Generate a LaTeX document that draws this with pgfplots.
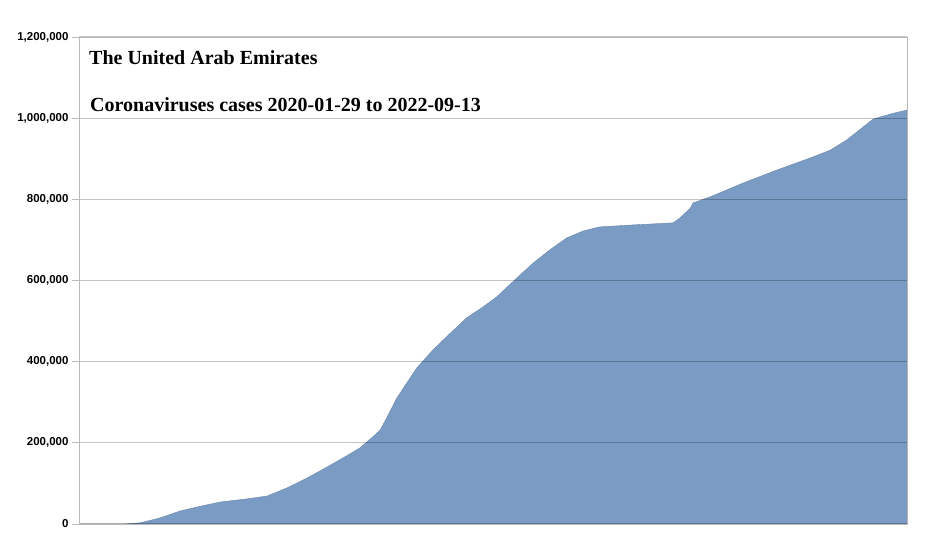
\documentclass[border=0pt]{standalone}
\usepackage{pgfplots}
\pgfplotsset{compat=1.18}
\usepackage{fontspec}
\setmainfont{Liberation Serif}
\setsansfont{Liberation Sans}
\definecolor{barblue}{RGB}{122,156,196}
\definecolor{framegray}{RGB}{185,185,185}

% cumulative cases, x = days since 2020-01-29
\pgfplotstableread{
day cases
0 0
47 0
53 0
71 3000
94 15000
117 32000
137 42000
163 54000
195 62000
218 69000
241 89000
264 113000
287 140000
310 168000
325 187000
340 214000
349 232000
357 264000
368 310000
391 384000
410 429000
430 470000
449 508000
468 535000
484 560000
507 606000
526 643000
545 675000
565 705000
584 722000
603 732000
642 737000
688 742000
696 754000
708 778000
711 791000
731 806000
769 840000
808 872000
847 902000
870 921000
889 946000
920 998000
943 1012000
959 1020000
}\uaecases

\begin{document}
\begin{tikzpicture}
\begin{axis}[
  scale only axis,
  width=828pt, height=487pt,
  xmin=0, xmax=959,
  ymin=0, ymax=1200000,
  xtick=\empty,
  ytick={0,200000,400000,600000,800000,1000000,1200000},
  ytick pos=left,
  scaled y ticks=false,
  yticklabel style={font=\sffamily\bfseries\fontsize{11.5}{13}\selectfont,
    /pgf/number format/.cd, fixed, 1000 sep={,}, assume math mode=true},
  ymajorgrids,
  grid style={black, opacity=0.24, line width=1.3pt},
  axis line style={framegray, line width=0.9pt},
  y tick style={framegray, line width=0.9pt},
  tick align=outside,
  major tick length=7pt,
  axis on top,
  clip=false,
]
\addplot[fill=barblue, draw=barblue!85!black, line width=0.4pt] table[x=day, y=cases] {\uaecases} \closedcycle;
\node[anchor=base west, inner sep=0pt, font=\bfseries\fontsize{20}{24}\selectfont]
  at (rel axis cs:0.0121,0.9425) {The United Arab Emirates};
\node[anchor=base west, inner sep=0pt, font=\bfseries\fontsize{20}{24}\selectfont]
  at (rel axis cs:0.0133,0.846) {Coronaviruses cases 2020-01-29 to 2022-09-13};
\end{axis}
\path (current axis.south west) ++(-79pt,-22pt) rectangle ([shift={(26pt,37pt)}]current axis.north east);
\end{tikzpicture}
\end{document}
